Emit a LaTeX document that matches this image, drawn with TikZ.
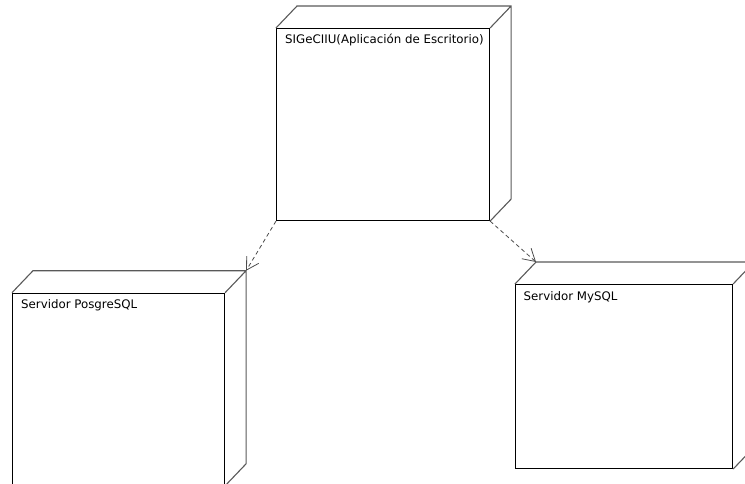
\documentclass[tikz,border=0pt]{standalone}
\usepackage{fontspec}
\setsansfont{DejaVu Sans}
\usetikzlibrary{arrows.meta}
\begin{document}
\begin{tikzpicture}[x=1pt,y=1pt,
		frente/.style={draw=black,line width=1.1pt,fill=white,inner sep=0pt,anchor=north west},
		fondo/.style={draw=black!65,line width=1.1pt},
		titulo/.style={anchor=base west,inner sep=0pt,text=black,font=\sffamily\fontsize{11.8}{14}\selectfont},
		dep/.style={draw=black!70,line width=0.8pt,dash pattern=on 4pt off 3pt,-{Straight Barb[length=12pt,width=14pt]}}]
	\clip (0,0) rectangle (745,-484);
	\node[frente,minimum width=213,minimum height=192] (app) at (276,-28) {};
	\node[frente,minimum width=212,minimum height=192] (pg) at (12,-292.7) {};
	\node[frente,minimum width=217,minimum height=184] (my) at (515,-284) {};
	\foreach \n in {app,pg,my}
		\draw[fondo] (\n.north west) -- ++(21,22) -| ([shift={(21,22)}]\n.south east) -- (\n.south east)
			(\n.north east) -- ++(21,22);
	\node[titulo] (appTxt) at ([shift={(9,-15.5)}]app.north west) {SIGeCIIU(Aplicación de Escritorio)};
	\node[titulo] (pgTxt) at ([shift={(9,-15.5)}]pg.north west) {Servidor PosgreSQL};
	\node[titulo] (myTxt) at ([shift={(8.5,-16)}]my.north west) {Servidor MySQL};
	\coordinate (pgTop) at ([shift={(21,22)}]pg.north east);
	\coordinate (myTop) at ([shift={(21,22)}]my.north west);
	\draw[dep] (app.south west) -- (pgTop);
	\draw[dep] (app.south east) -- (myTop);
\end{tikzpicture}
\end{document}
